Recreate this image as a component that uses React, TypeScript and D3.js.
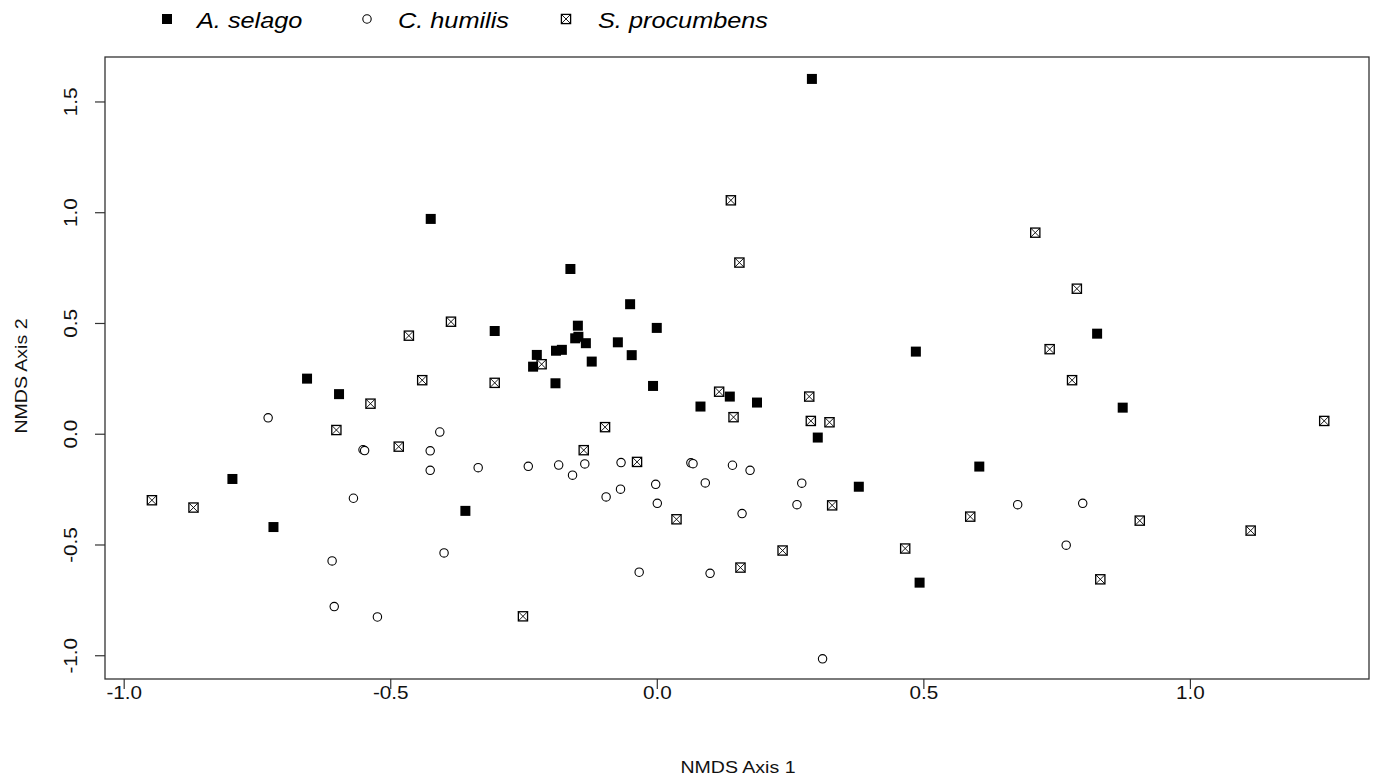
import React from "react";
import * as d3 from "d3";

const seriesNames = ["A. selago", "C. humilis", "S. procumbens"];

const selago: [number, number][] = [
  [0.290, 1.604], [-0.425, 0.972], [-0.163, 0.746], [-0.051, 0.587], [-0.149, 0.490],
  [-0.001, 0.480], [-0.305, 0.466], [-0.154, 0.433], [-0.148, 0.440], [-0.134, 0.411],
  [-0.074, 0.415], [-0.190, 0.377], [-0.179, 0.381], [-0.048, 0.357], [-0.123, 0.328],
  [-0.226, 0.358], [-0.233, 0.305], [-0.191, 0.230], [-0.008, 0.218], [0.485, 0.373],
  [0.825, 0.454], [0.873, 0.120], [-0.657, 0.251], [-0.597, 0.181], [0.136, 0.170],
  [0.187, 0.143], [0.081, 0.125], [0.301, -0.015], [0.604, -0.146], [0.378, -0.237],
  [-0.797, -0.202], [-0.360, -0.346], [-0.720, -0.419], [0.492, -0.670],
];

const humilis: [number, number][] = [
  [-0.730, 0.074], [-0.408, 0.010], [-0.552, -0.070], [-0.549, -0.074], [-0.426, -0.075],
  [-0.426, -0.163], [-0.336, -0.151], [-0.570, -0.289], [-0.610, -0.572], [-0.400, -0.536],
  [-0.606, -0.778], [-0.525, -0.825], [-0.242, -0.145], [-0.185, -0.139], [-0.159, -0.185],
  [-0.136, -0.134], [-0.068, -0.128], [0.063, -0.129], [0.067, -0.133], [0.141, -0.140],
  [0.174, -0.163], [-0.003, -0.226], [0.090, -0.220], [0.271, -0.221], [-0.096, -0.283],
  [-0.069, -0.248], [0.000, -0.312], [0.262, -0.318], [0.159, -0.358], [-0.034, -0.623],
  [0.099, -0.628], [0.310, -1.014], [0.676, -0.318], [0.798, -0.312], [0.767, -0.501],
];

const procumbens: [number, number][] = [
  [-0.387, 0.508], [-0.466, 0.445], [0.138, 1.056], [0.154, 0.775], [0.709, 0.910],
  [0.787, 0.657], [0.736, 0.384], [0.778, 0.244], [1.251, 0.060], [-0.217, 0.316],
  [-0.441, 0.244], [-0.305, 0.232], [-0.538, 0.138], [-0.602, 0.019], [-0.485, -0.056],
  [-0.948, -0.298], [-0.870, -0.331], [-0.252, -0.822], [0.116, 0.192], [0.285, 0.170],
  [0.143, 0.077], [0.288, 0.060], [0.323, 0.054], [-0.098, 0.032], [-0.138, -0.072],
  [-0.038, -0.125], [0.328, -0.321], [0.036, -0.384], [0.235, -0.525], [0.465, -0.516],
  [0.156, -0.602], [0.587, -0.372], [0.905, -0.390], [1.113, -0.435], [0.831, -0.655],
];

const xTicks = [-1.0, -0.5, 0.0, 0.5, 1.0];
const yTicks = [-1.0, -0.5, 0.0, 0.5, 1.0, 1.5];
const xTitle = "NMDS Axis 1";
const yTitle = "NMDS Axis 2";

const W = 1374;
const H = 777;
const left = 105, right = 1369, top = 57, bottom = 679;
const FONT = "'Liberation Sans', Arial, Helvetica, sans-serif";
const SX = 1.15;
const AX = "#333";

const x = d3.scaleLinear().domain([-1.036, 1.335]).range([left, right]);
const y = d3.scaleLinear().domain([-1.105, 1.703]).range([bottom, top]);

const S = 5; // half size square

function FilledSquare({ cx, cy }: { cx: number; cy: number }) {
  return <rect x={cx - S} y={cy - S} width={2 * S} height={2 * S} fill="#000" />;
}
function Circle({ cx, cy }: { cx: number; cy: number }) {
  return <circle cx={cx} cy={cy} r={4.2} fill="#fff" stroke="#000" strokeWidth={1.1} />;
}
function CrossSquare({ cx, cy }: { cx: number; cy: number }) {
  const s = 4.6;
  return (
    <g>
      <rect x={cx - s} y={cy - s} width={2 * s} height={2 * s} fill="#fff" stroke="#000" strokeWidth={1.3} />
      <path d={`M${cx - s},${cy - s}L${cx + s},${cy + s}M${cx - s},${cy + s}L${cx + s},${cy - s}`} stroke="#000" strokeWidth={0.9} />
    </g>
  );
}

function fmt(v: number) {
  return v.toFixed(1);
}

export default function App() {
  return (
    <svg width={W} height={H} style={{ position: "absolute", left: 0, top: 0, background: "#fff" }}>
      <rect x={0} y={0} width={W} height={H} fill="#fff" />
      {/* legend */}
      <g fontFamily={FONT} fontStyle="italic" fontSize={22} fill="#000">
        <FilledSquare cx={167} cy={19} />
        <text transform={`translate(197,28) scale(${SX},1)`}>{seriesNames[0]}</text>
        <Circle cx={367} cy={19} />
        <text transform={`translate(398,28) scale(${SX},1)`}>{seriesNames[1]}</text>
        <CrossSquare cx={566} cy={19} />
        <text transform={`translate(598,28) scale(${SX},1)`}>{seriesNames[2]}</text>
      </g>

      {/* box */}
      <rect x={left} y={top} width={right - left} height={bottom - top} fill="none" stroke={AX} strokeWidth={1.3} />

      {/* x axis */}
      <g fontFamily={FONT} fontSize={18} fill="#111">
        {xTicks.map((t) => (
          <g key={"x" + t}>
            <line x1={x(t)} x2={x(t)} y1={bottom} y2={bottom + 10} stroke={AX} strokeWidth={1.2} />
            <text transform={`translate(${x(t)},699) scale(${SX},1)`} textAnchor="middle">{fmt(t)}</text>
          </g>
        ))}
        {yTicks.map((t) => (
          <g key={"y" + t}>
            <line x1={left - 10} x2={left} y1={y(t)} y2={y(t)} stroke={AX} strokeWidth={1.2} />
            <text transform={`translate(77,${y(t)}) rotate(-90) scale(${SX},1)`} textAnchor="middle">{fmt(t)}</text>
          </g>
        ))}
      </g>

      <g fontFamily={FONT} fontSize={17} fill="#111">
        <text transform={`translate(${(left + right) / 2 + 1},773) scale(${SX},1)`} textAnchor="middle">{xTitle}</text>
        <text transform={`translate(27,${(top + bottom) / 2 + 8}) rotate(-90) scale(${SX},1)`} textAnchor="middle">{yTitle}</text>
      </g>

      {/* points */}
      <g>
        {humilis.map((d, i) => (
          <Circle key={"c" + i} cx={x(d[0])} cy={y(d[1])} />
        ))}
        {procumbens.map((d, i) => (
          <CrossSquare key={"s" + i} cx={x(d[0])} cy={y(d[1])} />
        ))}
        {selago.map((d, i) => (
          <FilledSquare key={"a" + i} cx={x(d[0])} cy={y(d[1])} />
        ))}
      </g>
    </svg>
  );
}
